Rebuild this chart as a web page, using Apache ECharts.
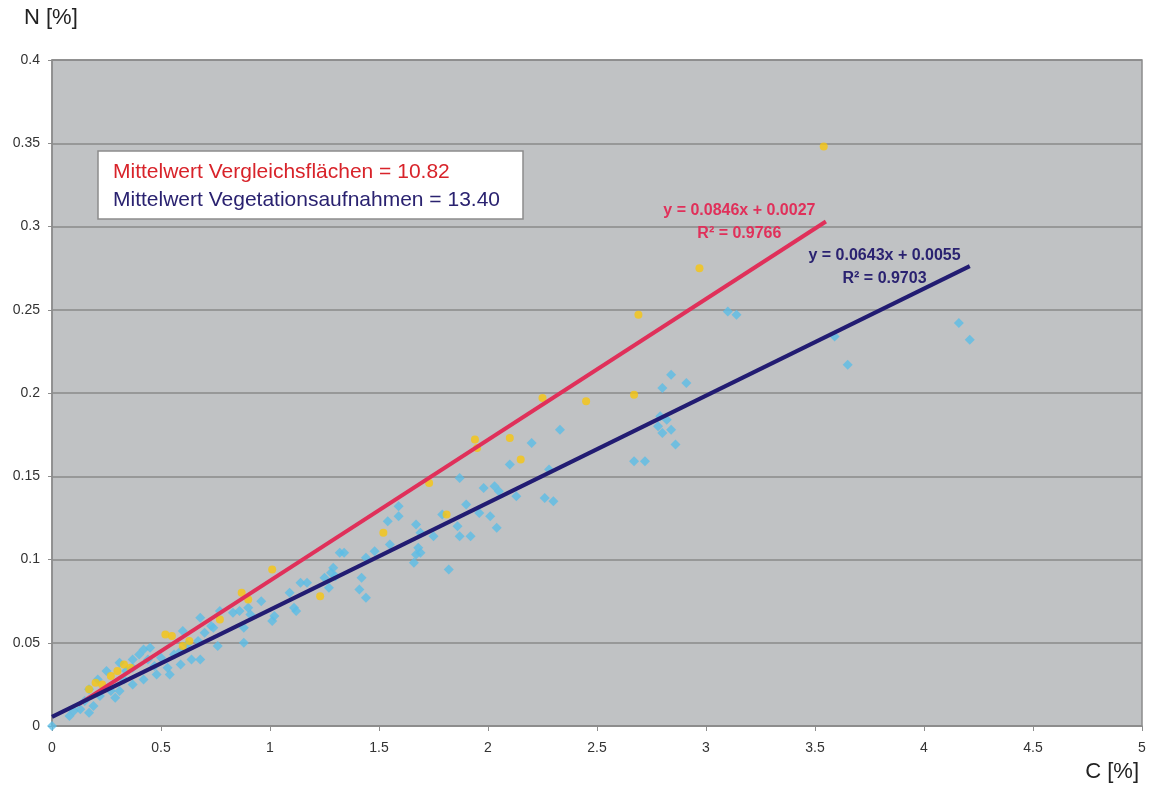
<!DOCTYPE html>
<html>
<head>
<meta charset="utf-8">
<script src="https://cdn.jsdelivr.net/npm/echarts@6/dist/echarts.min.js"></script>
<style>
  html, body { margin: 0; padding: 0; background: #fff; }
  #chart { width: 1154px; height: 787px; }
</style>
</head>
<body>
<div id="chart"></div>
<script>
// C [%] / N [%] pairs

// Vegetationsaufnahmen (blue diamonds)
var vegC = [0, 0.08, 0.10, 0.13, 0.15, 0.17, 0.17, 0.19, 0.21, 0.22, 0.25, 0.27, 0.29, 0.31, 0.31, 0.33, 0.34, 0.37, 0.37, 0.37,
  0.40, 0.42, 0.42, 0.44, 0.45, 0.47, 0.48, 0.50, 0.53, 0.54, 0.56, 0.59, 0.59, 0.60, 0.62, 0.64, 0.67, 0.68, 0.68, 0.70,
  0.73, 0.74, 0.76, 0.77, 0.83, 0.86, 0.88, 0.88, 0.90, 0.91, 0.96, 1.01, 1.02, 1.09, 1.11, 1.12, 1.14, 1.17, 1.25, 1.27,
  1.28, 1.29, 1.30, 1.32, 1.34, 1.41, 1.42, 1.44, 1.44, 1.48, 1.54, 1.55, 1.59, 1.59, 1.66, 1.67, 1.67, 1.68, 1.69, 1.69,
  1.75, 1.79, 1.82, 1.86, 1.87, 1.87, 1.90, 1.92, 1.96, 1.98, 2.01, 2.03, 2.04, 2.05, 2.10, 2.13, 2.20, 2.26, 2.28, 2.30,
  2.33, 2.67, 2.72, 2.78, 2.79, 2.80, 2.80, 2.82, 2.84, 2.84, 2.86, 2.91, 3.10, 3.14, 3.59, 3.65, 4.16, 4.21];
var vegN = [0, 0.006, 0.009, 0.010, 0.015, 0.008, 0.022, 0.012, 0.028, 0.018, 0.033, 0.021, 0.017, 0.021, 0.038, 0.028, 0.033, 0.025, 0.035, 0.040,
  0.043, 0.028, 0.046, 0.040, 0.047, 0.036, 0.031, 0.041, 0.035, 0.031, 0.043, 0.037, 0.045, 0.057, 0.049, 0.040, 0.051, 0.040, 0.065, 0.056,
  0.060, 0.059, 0.048, 0.069, 0.068, 0.069, 0.059, 0.050, 0.071, 0.067, 0.075, 0.063, 0.066, 0.080, 0.071, 0.069, 0.086, 0.086, 0.089, 0.083,
  0.092, 0.095, 0.090, 0.104, 0.104, 0.082, 0.089, 0.077, 0.101, 0.105, 0.123, 0.109, 0.132, 0.126, 0.098, 0.103, 0.121, 0.107, 0.104, 0.116,
  0.114, 0.127, 0.094, 0.120, 0.149, 0.114, 0.133, 0.114, 0.128, 0.143, 0.126, 0.144, 0.119, 0.141, 0.157, 0.138, 0.170, 0.137, 0.154, 0.135,
  0.178, 0.159, 0.159, 0.180, 0.186, 0.203, 0.176, 0.184, 0.211, 0.178, 0.169, 0.206, 0.249, 0.247, 0.234, 0.217, 0.242, 0.232];

// Vergleichsflächen (yellow dots)
var vglC = [0.17, 0.20, 0.23, 0.27, 0.30, 0.33, 0.36, 0.52, 0.55, 0.60, 0.63, 0.77, 0.87, 0.90, 1.01, 1.23, 1.52, 1.73, 1.81, 1.94,
  1.95, 2.10, 2.15, 2.25, 2.45, 2.67, 2.69, 2.97, 3.54];
var vglN = [0.022, 0.026, 0.025, 0.030, 0.033, 0.037, 0.035, 0.055, 0.054, 0.048, 0.051, 0.064, 0.080, 0.076, 0.094, 0.078, 0.116, 0.146, 0.127, 0.172,
  0.167, 0.173, 0.160, 0.197, 0.195, 0.199, 0.247, 0.275, 0.348];

// trendlines as printed in the chart
var trendVgl = { a: 0.0846, b: 0.0027, from: 0.12, to: 3.55 };
var trendVeg = { a: 0.0643, b: 0.0055, from: 0, to: 4.21 };

var xTicks = [0, 0.5, 1, 1.5, 2, 2.5, 3, 3.5, 4, 4.5, 5];
var yTicks = [0, 0.05, 0.1, 0.15, 0.2, 0.25, 0.3, 0.35, 0.4];

function pairs(xs, ys) {
  var out = [];
  for (var i = 0; i < xs.length; i++) out.push([xs[i], ys[i]]);
  return out;
}
function trendPts(t) {
  return [[t.from, t.a * t.from + t.b], [t.to, t.a * t.to + t.b]];
}

var myChart = echarts.init(document.getElementById('chart'));

var ff = 'Liberation Sans, Arial, sans-serif';
var axisFont = { color: '#333', fontSize: 14, fontFamily: ff };

var option = {
  animation: false,
  textStyle: { fontFamily: ff },
  grid: {
    left: 52, right: 12, top: 60, bottom: 61,
    show: true,
    backgroundColor: '#c0c2c4',
    borderColor: '#8c8c8c',
    borderWidth: 1.5
  },
  xAxis: {
    type: 'value',
    min: xTicks[0], max: xTicks[xTicks.length - 1], interval: 0.5,
    splitLine: { show: false },
    axisLine: { show: true, lineStyle: { color: '#8c8c8c', width: 1.5 } },
    axisTick: { show: true, length: 5, lineStyle: { color: '#8c8c8c' } },
    axisLabel: Object.assign({ margin: 15 }, axisFont)
  },
  yAxis: {
    type: 'value',
    min: yTicks[0], max: yTicks[yTicks.length - 1], interval: 0.05,
    splitLine: { show: true, lineStyle: { color: '#8a8a8a', width: 1.5 } },
    axisLine: { show: true, lineStyle: { color: '#8c8c8c', width: 1.5 } },
    axisTick: { show: true, length: 4, lineStyle: { color: '#8c8c8c' } },
    axisLabel: Object.assign({ margin: 12 }, axisFont)
  },
  series: [
    {
      name: 'Vegetationsaufnahmen',
      type: 'scatter',
      symbol: 'diamond',
      symbolSize: 10,
      itemStyle: { color: '#5bbde6' },
      data: pairs(vegC, vegN),
      z: 2
    },
    {
      name: 'Vergleichsflächen',
      type: 'scatter',
      symbol: 'circle',
      symbolSize: 8,
      itemStyle: { color: '#f6c510' },
      data: pairs(vglC, vglN),
      z: 3
    },
    {
      name: 'Trend Vergleichsflächen',
      type: 'line',
      showSymbol: false,
      lineStyle: { color: '#e0305a', width: 4 },
      data: trendPts(trendVgl),
      z: 4
    },
    {
      name: 'Trend Vegetationsaufnahmen',
      type: 'line',
      showSymbol: false,
      lineStyle: { color: '#221c72', width: 4 },
      data: trendPts(trendVeg),
      z: 5
    }
  ]
};
myChart.setOption(option);

// annotations (axis names, mean-value box, trend equations)
var p1 = myChart.convertToPixel({ gridIndex: 0 }, [3.153, 0.3143]);
var p2 = myChart.convertToPixel({ gridIndex: 0 }, [3.819, 0.2872]);
var eqFont = 'bold 16px ' + ff;
var boxFont = '21px ' + ff;

myChart.setOption({
  graphic: [
    { type: 'text', x: 24, y: 7, style: { text: 'N [%]', font: '22px ' + ff, fill: '#222' } },
    { type: 'text', x: 1139, y: 761, style: { text: 'C [%]', font: '22px ' + ff, fill: '#222', align: 'right' } },
    {
      type: 'rect', shape: { x: 98, y: 151, width: 425, height: 68 },
      style: { fill: '#fff', stroke: '#8c8c8c', lineWidth: 1.5 }, z: 10
    },
    { type: 'text', x: 113, y: 162, z: 11, style: { text: 'Mittelwert Vergleichsflächen = 10.82', font: boxFont, fill: '#d8232a' } },
    { type: 'text', x: 113, y: 190, z: 11, style: { text: 'Mittelwert Vegetationsaufnahmen = 13.40', font: boxFont, fill: '#2a2270' } },
    { type: 'text', x: p1[0], y: p1[1], z: 11, style: { text: 'y = 0.0846x + 0.0027', font: eqFont, fill: '#e0305a', align: 'center' } },
    { type: 'text', x: p1[0], y: p1[1] + 23, z: 11, style: { text: 'R² = 0.9766', font: eqFont, fill: '#e0305a', align: 'center' } },
    { type: 'text', x: p2[0], y: p2[1], z: 11, style: { text: 'y = 0.0643x + 0.0055', font: eqFont, fill: '#2a2270', align: 'center' } },
    { type: 'text', x: p2[0], y: p2[1] + 23, z: 11, style: { text: 'R² = 0.9703', font: eqFont, fill: '#2a2270', align: 'center' } }
  ]
});

window.addEventListener('resize', function () {
  myChart.resize();
});
</script>
</body>
</html>
